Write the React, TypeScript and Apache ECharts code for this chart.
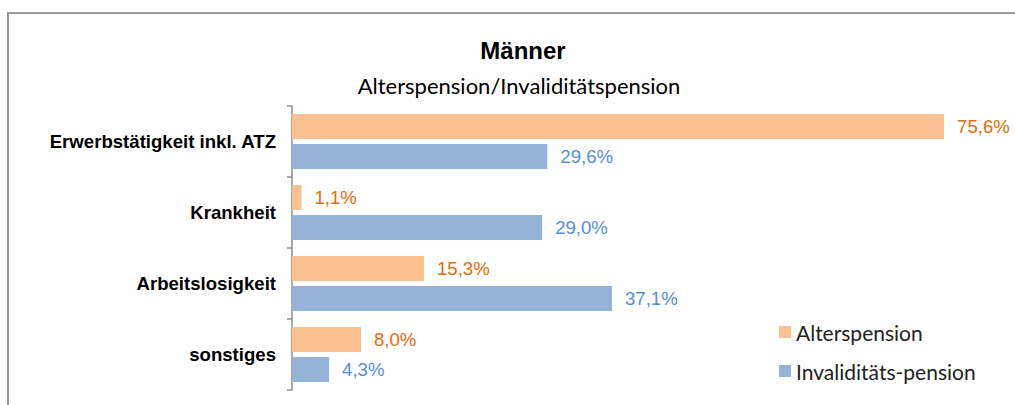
import React, { useEffect, useRef } from "react";
import * as echarts from "echarts";

const categories = ["Erwerbstätigkeit inkl. ATZ", "Krankheit", "Arbeitslosigkeit", "sonstiges"];
const alterspension = [75.6, 1.1, 15.3, 8.0];
const invaliditaet = [29.6, 29.0, 37.1, 4.3];
const seriesNames = ["Alterspension", "Invaliditäts-pension"];
const titleText = "Männer";
const subtitleText = "Alterspension/Invaliditätspension";

const fmt = (v: number) => v.toFixed(1).replace(".", ",") + "%";

export default function App() {
  const ref = useRef<HTMLDivElement>(null);
  useEffect(() => {
    if (!ref.current) return;
    const chart = echarts.init(ref.current, null, { renderer: "svg" });
    chart.setOption({
      animation: false,
      backgroundColor: "#ffffff",
      title: [
        {
          text: titleText,
          left: 518,
          top: 33,
          textAlign: "center",
          textStyle: { fontFamily: "Liberation Sans, Arial, sans-serif", fontSize: 24, fontWeight: "bold", color: "#000", lineHeight: 24 },
        },
        {
          text: subtitleText,
          left: 514,
          top: 69,
          textAlign: "center",
          textStyle: { fontFamily: "Lato, sans-serif", fontSize: 22, fontWeight: "normal", color: "#000", lineHeight: 22 },
        },
      ],
      legend: {
        orient: "vertical",
        left: 774,
        top: 316,
        icon: "rect",
        itemWidth: 12,
        itemHeight: 12,
        itemGap: 17,
        selectedMode: false,
        data: seriesNames,
        textStyle: { fontFamily: "Lato, sans-serif", fontSize: 21, lineHeight: 22, color: "#222" },
      },
      grid: { left: 292, top: 106, width: 690, height: 284, containLabel: false },
      xAxis: {
        type: "value",
        min: 0,
        max: 80,
        show: false,
        splitLine: { show: false },
      },
      yAxis: {
        type: "category",
        inverse: true,
        data: categories,
        axisLine: { show: true, lineStyle: { color: "#8c8c8c", width: 1.5 } },
        axisTick: { show: true, length: 5, lineStyle: { color: "#8c8c8c", width: 1.5 } },
        axisLabel: {
          margin: 16,
          fontFamily: "Liberation Sans, Arial, sans-serif",
          fontSize: 18.6,
          fontWeight: "bold",
          color: "#000",
        },
        splitLine: { show: false },
      },
      series: [
        {
          name: seriesNames[0],
          type: "bar",
          data: alterspension,
          barWidth: 25,
          barGap: "20%",
          itemStyle: { color: "#FAC090" },
          label: {
            show: true,
            position: "right",
            distance: 13,
            formatter: (p: any) => fmt(p.value),
            fontFamily: "Liberation Sans, Arial, sans-serif",
            fontSize: 18.6,
            color: "#E46C0A",
          },
        },
        {
          name: seriesNames[1],
          type: "bar",
          data: invaliditaet,
          barWidth: 25,
          barGap: "20%",
          itemStyle: { color: "#95B3D7" },
          label: {
            show: true,
            position: "right",
            distance: 13,
            formatter: (p: any) => fmt(p.value),
            fontFamily: "Liberation Sans, Arial, sans-serif",
            fontSize: 18.6,
            color: "#558ED5",
          },
        },
      ],
      graphic: [
        { type: "line", shape: { x1: 7, y1: 13, x2: 1015, y2: 13 }, style: { stroke: "#9a9a9a", lineWidth: 2 } },
        { type: "line", shape: { x1: 8, y1: 12, x2: 8, y2: 405 }, style: { stroke: "#9a9a9a", lineWidth: 2 } },
      ],
    });
    return () => chart.dispose();
  }, []);
  return (
    <div style={{ position: "absolute", left: 0, top: 0, width: 1015, height: 405 }}>
      <div ref={ref} style={{ width: 1015, height: 405 }} />
    </div>
  );
}
